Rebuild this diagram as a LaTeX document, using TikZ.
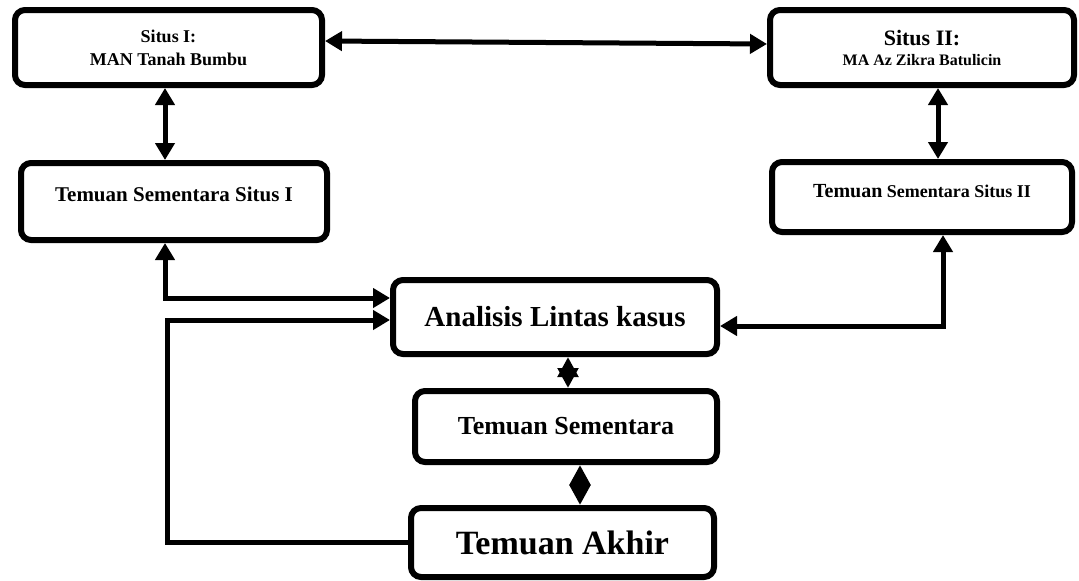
\documentclass[tikz,border=0pt]{standalone}
\usepackage{fontspec}
\setmainfont{Liberation Serif}
\usetikzlibrary{arrows.meta,calc}
\begin{document}
\begin{tikzpicture}[x=1pt,y=-1pt,
  box/.style={draw=black, line width=6pt, rounded corners=10pt, inner sep=0pt, align=center, fill=white},
  >={Triangle[length=17pt,width=19pt]},
  conn/.style={line width=5pt, ->},
  dbl/.style={line width=5pt, <->},
  bigtip/.style={line width=5pt, {Triangle[length=20pt,width=20pt]}-{Triangle[length=20pt,width=20pt]}}]
\useasboundingbox (0,0) rectangle (1079,581);
\node[box, minimum width=307pt, minimum height=75pt, font=\bfseries\fontsize{18}{23}\selectfont] (s1) at (168.5,47.5)
  {Situs I:\\MAN Tanah Bumbu};
\node[box, minimum width=304pt, minimum height=75pt, font=\bfseries\fontsize{16}{20}\selectfont] (s2) at (922,47.5)
  {{\fontsize{22}{20}\selectfont Situs II:}\\MA Az Zikra Batulicin};
\node[box, minimum width=306pt, minimum height=77pt, text depth=14pt, font=\bfseries\fontsize{21}{25}\selectfont] (t1) at (174,201.5)
  {Temuan Sementara Situs I};
\node[box, minimum width=300pt, minimum height=70pt, text depth=12pt, font=\bfseries\fontsize{18}{24}\selectfont] (t2) at (922,197)
  {{\fontsize{20}{24}\selectfont Temuan} Sementara Situs II};
\node[box, minimum width=324pt, minimum height=74pt, font=\bfseries\fontsize{29}{32}\selectfont] (a) at (555,317)
  {Analisis Lintas kasus};
\node[box, minimum width=302pt, minimum height=71pt, font=\bfseries\fontsize{26}{30}\selectfont] (ts) at (566,426.5)
  {Temuan Sementara};
\node[box, minimum width=303pt, minimum height=69pt, font=\bfseries\fontsize{34}{38}\selectfont] (ta) at (562.5,542.5)
  {Temuan Akhir};

\draw[dbl] ([yshift=6.5pt]s1.east) -- ([yshift=3.5pt]s2.west);
\draw[dbl] ([xshift=-3.5pt]s1.south) -- ([xshift=-3.5pt]s1.south |- t1.north);
\draw[dbl] ([xshift=16pt]s2.south) -- ([xshift=16pt]s2.south |- t2.north);
\draw[dbl] ([xshift=-9pt]t1.south) |- ([yshift=19pt]a.west);
\draw[conn] (ta.west) -- ++(-241,0) |- ([yshift=-3pt]a.west);
\draw[dbl] ([xshift=21pt]t2.south) |- ([yshift=-9pt]a.east);
\draw[bigtip] ([xshift=13pt]a.south) -- ([xshift=13pt]a.south |- ts.north);
\draw[bigtip] ([xshift=14pt]ts.south) -- ([xshift=14pt]ts.south |- ta.north);
\end{tikzpicture}
\end{document}
